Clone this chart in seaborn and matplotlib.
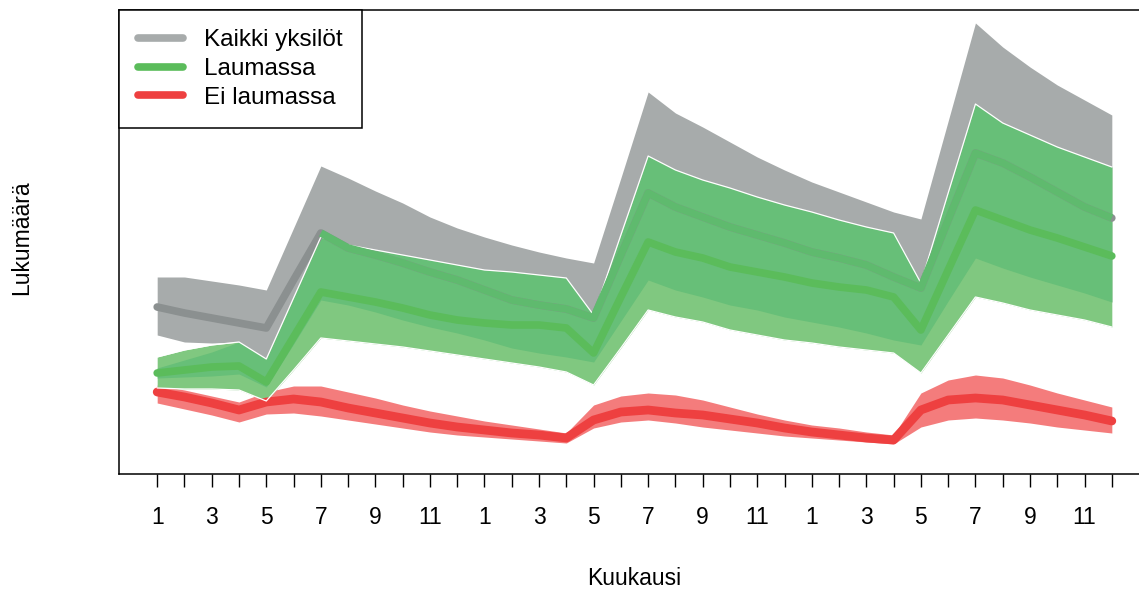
import numpy as np
import seaborn as sns
import matplotlib.pyplot as plt
from matplotlib.lines import Line2D

# kuukaudet 1..36 (kolme vuotta peräkkäin)
kk = np.arange(1, 37)
kk_nimet = [str((i - 1) % 12 + 1) if i % 2 == 1 else "" for i in kk]

# Kaikki yksilöt: vaihteluväli ja mediaani
kaikki_yla = [203, 203, 199, 195, 190, 252, 314, 302, 289, 277, 263, 252, 243, 235, 228, 222, 217, 302,
              388, 367, 353, 338, 323, 310, 298, 288, 278, 268, 261, 359, 457, 433, 413, 395, 380, 365]
kaikki_med = [173, 167, 162, 157, 152, 200, 247, 232, 225, 217, 208, 200, 190, 180, 175, 171, 162, 225,
              287, 273, 263, 253, 245, 237, 228, 222, 215, 203, 192, 260, 327, 317, 303, 288, 273, 262]
kaikki_ala = [145, 138, 137, 138, 115, 136, 180, 175, 168, 160, 153, 147, 140, 132, 127, 123, 118, 159,
              200, 190, 183, 175, 170, 163, 158, 153, 147, 140, 135, 179, 222, 212, 203, 195, 187, 178]

# Laumassa: ulompi väli, sisempi väli ja mediaani
lauma_yla = [123, 130, 135, 138, 121, 182, 243, 235, 230, 225, 220, 215, 210, 208, 205, 202, 165, 245,
             324, 310, 300, 292, 283, 275, 268, 260, 253, 247, 197, 287, 376, 357, 345, 333, 323, 313]
lauma_sis_yla = [112, 120, 128, 138, 121, 182, 243, 235, 230, 225, 220, 215, 210, 208, 205, 202, 165, 245,
                 324, 310, 300, 292, 283, 275, 268, 260, 253, 247, 197, 287, 376, 357, 345, 333, 323, 313]
lauma_med = [107, 110, 113, 114, 98, 143, 188, 183, 178, 172, 165, 160, 157, 155, 155, 152, 127, 183,
             238, 228, 222, 213, 208, 203, 197, 193, 190, 183, 150, 210, 270, 260, 250, 242, 233, 224]
lauma_sis_ala = [102, 103, 104, 106, 93, 136, 180, 175, 168, 160, 153, 147, 140, 132, 127, 123, 118, 159,
                 200, 190, 183, 175, 170, 163, 158, 153, 147, 140, 135, 179, 222, 212, 203, 195, 187, 178]
lauma_ala = [92, 91, 91, 90, 79, 110, 142, 139, 136, 133, 129, 125, 121, 117, 113, 108, 95, 132,
             170, 163, 158, 150, 145, 140, 137, 133, 130, 127, 107, 145, 183, 177, 170, 165, 160, 153]

# Ei laumassa
ei_yla = [95, 90, 84, 78, 88, 94, 94, 88, 82, 75, 69, 64, 59, 55, 51, 47, 75, 84,
          87, 85, 80, 73, 66, 60, 55, 52, 48, 45, 87, 100, 105, 102, 95, 87, 80, 73]
ei_med = [88, 83, 77, 70, 78, 81, 78, 72, 67, 62, 57, 53, 50, 47, 45, 42, 60, 68,
          70, 67, 65, 61, 57, 52, 48, 45, 42, 40, 70, 80, 82, 80, 75, 70, 65, 59]
ei_ala = [77, 71, 65, 58, 66, 67, 64, 60, 56, 52, 48, 45, 43, 41, 39, 37, 52, 58,
          60, 57, 53, 50, 47, 44, 42, 40, 38, 36, 53, 60, 62, 60, 57, 53, 50, 47]

ryhmat = ["Kaikki yksilöt", "Laumassa", "Ei laumassa"]

HARMAA = "#a7abab"
HARMAA_VIIVA = "#8b9090"
VIHREA_VAALEA = "#80c880"
VIHREA_KESKI = "#67bf78"
VIHREA_VIIVA = "#5bbc5b"
PUNAINEN_VAALEA = "#f47c7c"
PUNAINEN_VIIVA = "#ee4040"

sns.set_theme(style="white")
plt.rcParams['font.family'] = ['Liberation Sans', 'DejaVu Sans']
plt.rcParams['text.color'] = 'black'

fig = plt.figure(figsize=(11.39, 5.90), dpi=100)
ax = fig.add_axes([119 / 1139, 116 / 590, 1031 / 1139, 464 / 590])

lw = 5.5

# harmaa (kaikki yksilöt)
ax.fill_between(kk, kaikki_ala, kaikki_yla, color=HARMAA, lw=0)
sns.lineplot(x=kk, y=kaikki_med, ax=ax, color=HARMAA_VIIVA, lw=lw, solid_capstyle='round')

# punainen (ei laumassa)
ax.fill_between(kk, ei_ala, ei_yla, color=PUNAINEN_VAALEA, lw=0)
sns.lineplot(x=kk, y=ei_med, ax=ax, color=PUNAINEN_VIIVA, lw=lw + 0.8, solid_capstyle='round')

# vihreä (laumassa)
ax.fill_between(kk, lauma_ala, lauma_yla, color=VIHREA_VAALEA, lw=0)
ax.fill_between(kk, lauma_sis_ala, lauma_sis_yla, color=VIHREA_KESKI, lw=0)
ax.plot(kk, lauma_yla, color="white", lw=0.9)
ax.plot(kk, lauma_ala, color="white", lw=0.9)
# harmaa mediaani näkyy vihreän läpi
ax.plot(kk[6:], kaikki_med[6:], color="#5fba6e", lw=lw, solid_capstyle='butt')
sns.lineplot(x=kk, y=lauma_med, ax=ax, color=VIHREA_VIIVA, lw=lw, solid_capstyle='round')

ax.set_xlim(-0.4, 37.4)
ax.set_ylim(6, 470)

ax.set_xticks(kk)
ax.set_xticklabels(kk_nimet)
ax.set_yticks([])
ax.tick_params(axis='x', bottom=True, length=9.4, width=1.0, pad=14, labelsize=16.5,
               color='black', labelcolor='black', direction='out')
for s in ax.spines.values():
    s.set_color('black')
    s.set_linewidth(1.1)

ax.set_xlabel("Kuukausi", fontsize=16.5, labelpad=27, color='black')
ax.set_ylabel("Lukumäärä", fontsize=16.5, color='black')
ax.yaxis.set_label_coords(-0.083, 0.51)

handles = [Line2D([], [], color=c, lw=lw, solid_capstyle='round')
           for c in [HARMAA, VIHREA_VIIVA, PUNAINEN_VIIVA]]
leg = ax.legend(handles, ryhmat, loc='upper left', bbox_to_anchor=(0, 1), borderaxespad=0,
                frameon=True, fancybox=False, framealpha=1, edgecolor='black', fontsize=17.5,
                handlelength=1.85, handletextpad=0.85, borderpad=0.8, labelspacing=0.27)
leg.get_frame().set_linewidth(1.1)
for t in leg.get_texts():
    t.set_color('black')

fig.savefig("out.png", dpi=100)
